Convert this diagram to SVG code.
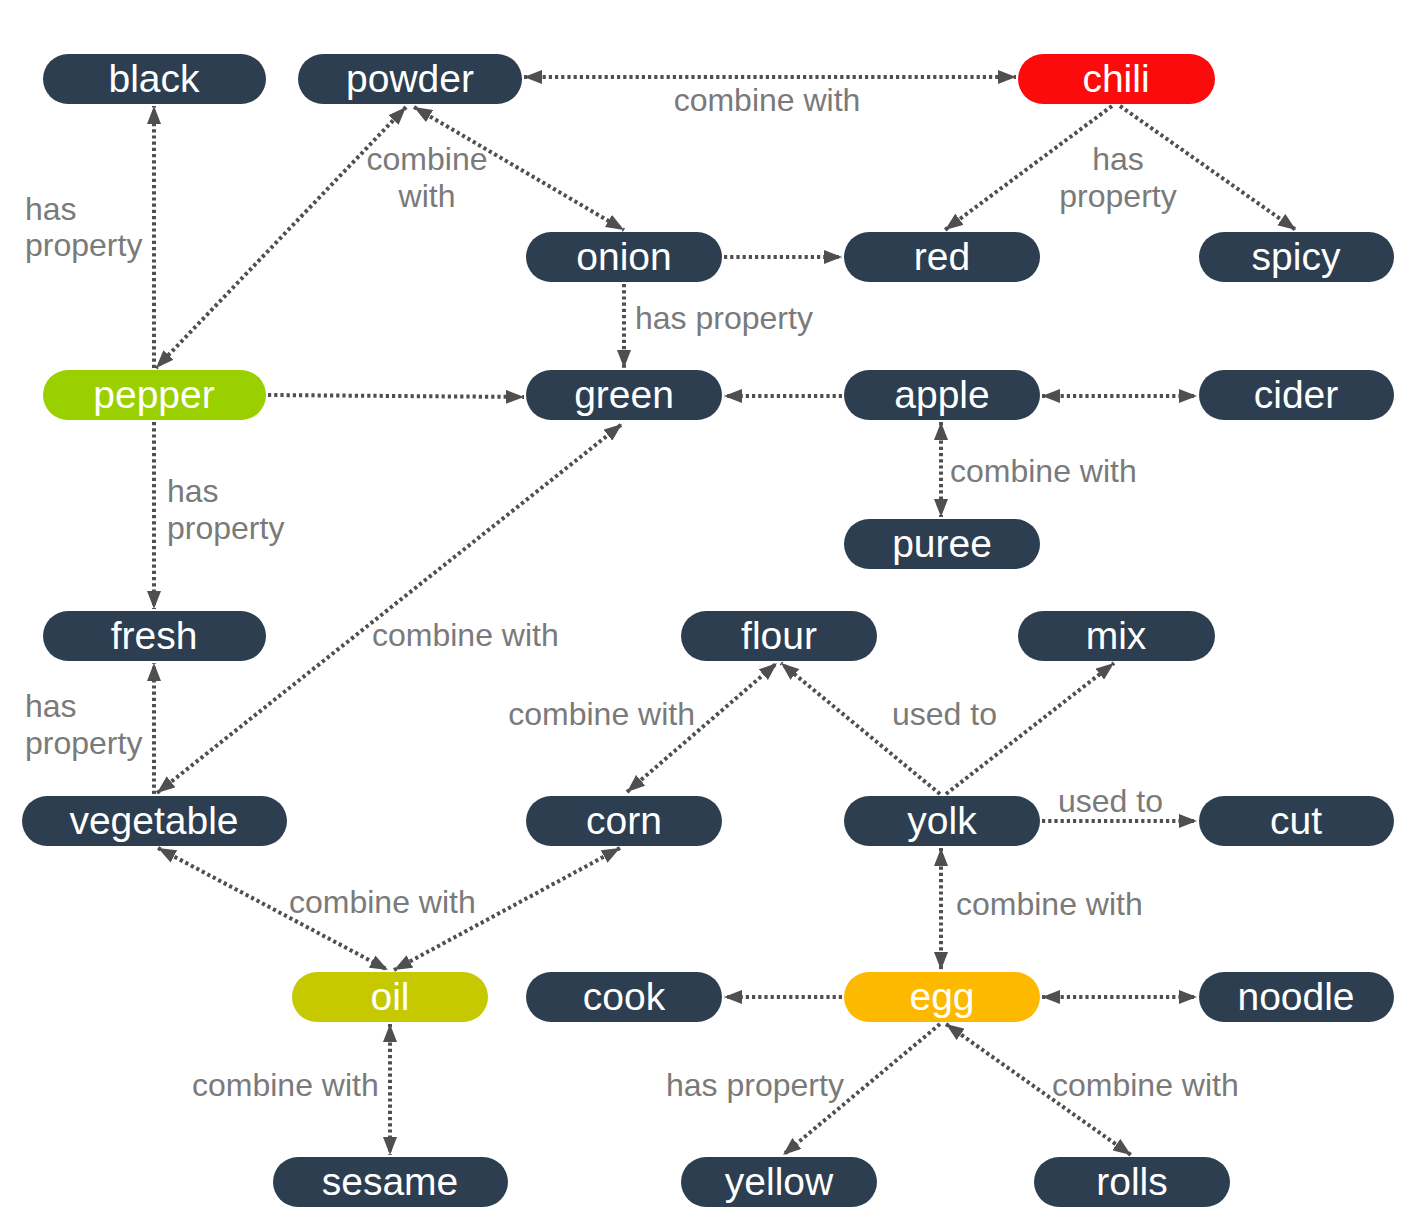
<svg xmlns="http://www.w3.org/2000/svg" width="1413" height="1227" viewBox="0 0 1413 1227">
<style>
.n rect{fill:#2c3e50}
.n text{fill:#fff;font-family:"Liberation Sans",Arial,sans-serif;font-size:39px;text-anchor:middle}
.e path{fill:none;stroke:#4f4f4f;stroke-width:4;stroke-dasharray:3.2 3}
.e path.b{marker-start:url(#ah);marker-end:url(#ah)}
.e path.s{marker-end:url(#ah)}
.l{fill:#7a7a7a;font-family:"Liberation Sans",Arial,sans-serif;font-size:32px}
.m{text-anchor:middle}
.r{text-anchor:end}
</style>
<defs>
<marker id="ah" markerUnits="userSpaceOnUse" markerWidth="18" markerHeight="14" refX="18" refY="7" orient="auto-start-reverse" viewBox="0 0 18 14">
<path d="M0,0 L18,7 L0,14 z" fill="#4f4f4f"/>
</marker>
</defs>
<rect width="1413" height="1227" fill="#fff"/>
<g id="connectors" class="e">
<path class="b" d="M524,77 L1016,77"/>
<path class="s" d="M154,368 L154,106"/>
<path class="b" d="M406,107 L156,368"/>
<path class="b" d="M414,107 L624,230"/>
<path class="s" d="M724,257 L842,257"/>
<path class="s" d="M1112,106 L945,230"/>
<path class="s" d="M1120,106 L1296,230"/>
<path class="s" d="M624,284 L624,368"/>
<path class="s" d="M268,395 L524,397"/>
<path class="s" d="M842,396 L724,396"/>
<path class="b" d="M1042,396 L1197,396"/>
<path class="b" d="M941,422 L941,517"/>
<path class="s" d="M154,422 L154,609"/>
<path class="b" d="M157,793 L622,424"/>
<path class="s" d="M154,794 L154,663"/>
<path class="b" d="M627,792 L777,663"/>
<path class="s" d="M940,794 L781,663"/>
<path class="s" d="M946,794 L1114,663"/>
<path class="s" d="M1042,821 L1197,821"/>
<path class="b" d="M941,848 L941,970"/>
<path class="b" d="M158,848 L388,970"/>
<path class="b" d="M620,848 L394,970"/>
<path class="b" d="M390,1024 L390,1155"/>
<path class="s" d="M842,997 L724,997"/>
<path class="b" d="M1042,997 L1197,997"/>
<path class="s" d="M940,1024 L783,1155"/>
<path class="b" d="M946,1024 L1131,1155"/>
</g>
<g id="labels">
<text class="l m" x="767" y="111">combine with</text>
<text class="l m" x="427" y="170">combine</text>
<text class="l m" x="427" y="207">with</text>
<text class="l" x="25" y="220">has</text>
<text class="l" x="25" y="256">property</text>
<text class="l m" x="1118" y="170">has</text>
<text class="l m" x="1118" y="207">property</text>
<text class="l" x="635" y="329">has property</text>
<text class="l" x="950" y="482">combine with</text>
<text class="l" x="167" y="502">has</text>
<text class="l" x="167" y="539">property</text>
<text class="l" x="372" y="646">combine with</text>
<text class="l" x="25" y="717">has</text>
<text class="l" x="25" y="754">property</text>
<text class="l r" x="695" y="725">combine with</text>
<text class="l" x="892" y="725">used to</text>
<text class="l" x="1058" y="812">used to</text>
<text class="l" x="956" y="915">combine with</text>
<text class="l" x="289" y="913">combine with</text>
<text class="l" x="192" y="1096">combine with</text>
<text class="l" x="666" y="1096">has property</text>
<text class="l" x="1052" y="1096">combine with</text>
</g>
<g id="black" class="n"><rect x="43" y="54" width="223" height="50" rx="25"/><text x="154" y="92">black</text></g>
<g id="powder" class="n"><rect x="298" y="54" width="224" height="50" rx="25"/><text x="410" y="92">powder</text></g>
<g id="chili" class="n"><rect x="1018" y="54" width="197" height="50" rx="25" style="fill:#fb0b0b"/><text x="1116" y="92">chili</text></g>
<g id="onion" class="n"><rect x="526" y="232" width="196" height="50" rx="25"/><text x="624" y="270">onion</text></g>
<g id="red" class="n"><rect x="844" y="232" width="196" height="50" rx="25"/><text x="942" y="270">red</text></g>
<g id="spicy" class="n"><rect x="1199" y="232" width="195" height="50" rx="25"/><text x="1296" y="270">spicy</text></g>
<g id="pepper" class="n"><rect x="43" y="370" width="223" height="50" rx="25" style="fill:#9ad000"/><text x="154" y="408">pepper</text></g>
<g id="green" class="n"><rect x="526" y="370" width="196" height="50" rx="25"/><text x="624" y="408">green</text></g>
<g id="apple" class="n"><rect x="844" y="370" width="196" height="50" rx="25"/><text x="942" y="408">apple</text></g>
<g id="cider" class="n"><rect x="1199" y="370" width="195" height="50" rx="25"/><text x="1296" y="408">cider</text></g>
<g id="puree" class="n"><rect x="844" y="519" width="196" height="50" rx="25"/><text x="942" y="557">puree</text></g>
<g id="fresh" class="n"><rect x="43" y="611" width="223" height="50" rx="25"/><text x="154" y="649">fresh</text></g>
<g id="flour" class="n"><rect x="681" y="611" width="196" height="50" rx="25"/><text x="779" y="649">flour</text></g>
<g id="mix" class="n"><rect x="1018" y="611" width="197" height="50" rx="25"/><text x="1116" y="649">mix</text></g>
<g id="vegetable" class="n"><rect x="22" y="796" width="265" height="50" rx="25"/><text x="154" y="834">vegetable</text></g>
<g id="corn" class="n"><rect x="526" y="796" width="196" height="50" rx="25"/><text x="624" y="834">corn</text></g>
<g id="yolk" class="n"><rect x="844" y="796" width="196" height="50" rx="25"/><text x="942" y="834">yolk</text></g>
<g id="cut" class="n"><rect x="1199" y="796" width="195" height="50" rx="25"/><text x="1296" y="834">cut</text></g>
<g id="oil" class="n"><rect x="292" y="972" width="196" height="50" rx="25" style="fill:#c6c900"/><text x="390" y="1010">oil</text></g>
<g id="cook" class="n"><rect x="526" y="972" width="196" height="50" rx="25"/><text x="624" y="1010">cook</text></g>
<g id="egg" class="n"><rect x="844" y="972" width="196" height="50" rx="25" style="fill:#fdb900"/><text x="942" y="1010">egg</text></g>
<g id="noodle" class="n"><rect x="1199" y="972" width="195" height="50" rx="25"/><text x="1296" y="1010">noodle</text></g>
<g id="sesame" class="n"><rect x="273" y="1157" width="235" height="50" rx="25"/><text x="390" y="1195">sesame</text></g>
<g id="yellow" class="n"><rect x="681" y="1157" width="196" height="50" rx="25"/><text x="779" y="1195">yellow</text></g>
<g id="rolls" class="n"><rect x="1034" y="1157" width="196" height="50" rx="25"/><text x="1132" y="1195">rolls</text></g>
</svg>
